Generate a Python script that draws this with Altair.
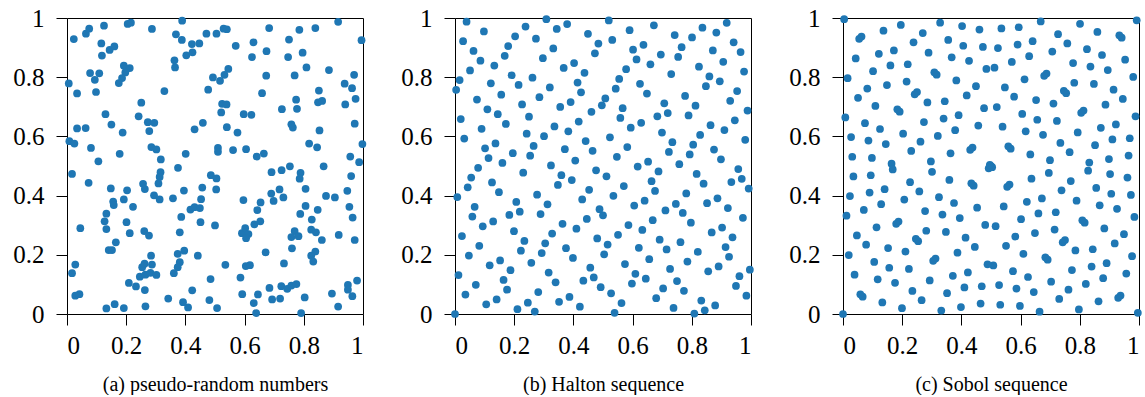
import altair as alt
import pandas as pd

# ---------------- data ----------------
tick_values = [0, 0.2, 0.4, 0.6, 0.8, 1]
captions = ["(a) pseudo-random numbers", "(b) Halton sequence", "(c) Sobol sequence"]

# (a) pseudo-random points
rand_x = [0.023,0.064,0.075,0.125,0.205,0.216,0.287,0.389,0.368,0.388,0.471,0.505,0.422,0.447,0.403,0.424,0.116,0.118,0.144,0.160,0.363,0.365,0.078,0.109,0.094,0.192,0.212,0.197,0.186,0.175,0.006,0.034,0.098,0.329,0.477,0.493,0.251,0.130,0.242,
          0.529,0.540,0.683,0.785,0.839,0.916,0.995,0.570,0.630,0.625,0.674,0.750,0.747,0.796,0.809,0.885,0.970,0.938,0.963,0.975,0.940,0.673,0.769,0.851,0.848,0.862,0.774,0.777,0.726,0.659,0.545,0.532,0.517,0.524,0.539,0.521,0.597,0.623,
          0.034,0.063,0.150,0.188,0.273,0.295,0.278,0.431,0.459,0.008,0.025,0.081,0.106,0.178,0.285,0.302,0.317,0.401,0.510,0.510,0.017,0.073,0.316,0.313,0.309,0.375,0.486,0.505,0.457,0.504,0.148,0.203,0.257,0.263,0.294,0.313,0.395,0.358,0.156,0.158,0.192,0.223,0.133,0.453,0.417,0.431,0.449,0.386,
          0.540,0.576,0.758,0.763,0.853,0.972,0.561,0.605,0.641,0.665,0.818,0.845,0.998,0.957,0.987,0.867,0.691,0.725,0.753,0.789,0.786,0.806,0.690,0.718,0.698,0.731,0.596,0.654,0.643,0.875,0.905,0.947,0.960,0.954,0.965,0.806,0.847,0.788,
          0.127,0.133,0.201,0.212,0.045,0.261,0.277,0.451,0.500,0.381,0.165,0.141,0.152,0.284,0.254,0.262,0.287,0.246,0.265,0.282,0.302,0.209,0.233,0.263,0.028,0.017,0.028,0.042,0.133,0.161,0.192,0.265,0.342,0.392,0.409,0.423,0.374,0.396,0.442,0.381,0.374,0.361,0.485,0.481,0.507,
          0.827,0.633,0.653,0.591,0.602,0.613,0.605,0.769,0.758,0.782,0.825,0.841,0.861,0.918,0.972,0.760,0.671,0.839,0.825,0.832,0.733,0.535,0.604,0.618,0.586,0.684,0.724,0.744,0.758,0.775,0.592,0.645,0.631,0.639,0.693,0.720,0.803,0.791,0.895,0.916,0.949,0.949,0.964,0.980]
rand_y = [0.929,0.947,0.964,0.974,0.980,0.984,0.963,0.991,0.945,0.926,0.947,0.947,0.912,0.914,0.874,0.884,0.914,0.873,0.892,0.904,0.857,0.833,0.814,0.813,0.791,0.839,0.831,0.816,0.797,0.780,0.779,0.745,0.750,0.753,0.758,0.799,0.714,0.675,0.668,
          0.964,0.962,0.966,0.960,0.966,0.987,0.925,0.906,0.918,0.868,0.888,0.927,0.868,0.883,0.833,0.824,0.808,0.778,0.763,0.727,0.708,0.805,0.806,0.755,0.715,0.720,0.724,0.693,0.692,0.746,0.828,0.808,0.788,0.710,0.708,0.681,0.675,0.673,
          0.627,0.628,0.640,0.613,0.648,0.646,0.618,0.624,0.646,0.584,0.576,0.561,0.516,0.541,0.564,0.556,0.522,0.541,0.561,0.548,0.473,0.443,0.479,0.463,0.441,0.494,0.469,0.458,0.427,0.421,0.424,0.418,0.440,0.422,0.401,0.387,0.417,0.391,0.380,0.368,0.387,0.362,0.339,0.388,0.353,0.361,0.358,0.328,
          0.631,0.613,0.641,0.630,0.620,0.643,0.554,0.557,0.532,0.542,0.576,0.563,0.574,0.532,0.513,0.499,0.479,0.486,0.499,0.477,0.457,0.423,0.407,0.421,0.382,0.394,0.385,0.377,0.351,0.399,0.394,0.416,0.466,0.362,0.326,0.365,0.352,0.338,
          0.313,0.287,0.310,0.273,0.290,0.280,0.265,0.310,0.299,0.276,0.242,0.216,0.216,0.197,0.158,0.170,0.167,0.126,0.133,0.139,0.132,0.105,0.093,0.081,0.167,0.138,0.062,0.067,0.019,0.033,0.020,0.026,0.052,0.040,0.022,0.080,0.203,0.214,0.197,0.175,0.158,0.138,0.118,0.047,0.020,
          0.319,0.303,0.313,0.273,0.290,0.270,0.256,0.280,0.260,0.263,0.285,0.276,0.250,0.267,0.250,0.222,0.208,0.211,0.197,0.177,0.171,0.166,0.162,0.165,0.123,0.088,0.094,0.085,0.096,0.101,0.067,0.066,0.037,0.003,0.049,0.052,0.056,0.003,0.069,0.025,0.098,0.082,0.060,0.113]

# (b) Halton points 0..255 (bases 2 and 3); x in 1/256 units, y in 1/729 units
halton_x_256 = [0,128,64,192,32,160,96,224,16,144,80,208,48,176,112,240,
                8,136,72,200,40,168,104,232,24,152,88,216,56,184,120,248,
                4,132,68,196,36,164,100,228,20,148,84,212,52,180,116,244,
                12,140,76,204,44,172,108,236,28,156,92,220,60,188,124,252,
                2,130,66,194,34,162,98,226,18,146,82,210,50,178,114,242,
                10,138,74,202,42,170,106,234,26,154,90,218,58,186,122,250,
                6,134,70,198,38,166,102,230,22,150,86,214,54,182,118,246,
                14,142,78,206,46,174,110,238,30,158,94,222,62,190,126,254,
                1,129,65,193,33,161,97,225,17,145,81,209,49,177,113,241,
                9,137,73,201,41,169,105,233,25,153,89,217,57,185,121,249,
                5,133,69,197,37,165,101,229,21,149,85,213,53,181,117,245,
                13,141,77,205,45,173,109,237,29,157,93,221,61,189,125,253,
                3,131,67,195,35,163,99,227,19,147,83,211,51,179,115,243,
                11,139,75,203,43,171,107,235,27,155,91,219,59,187,123,251,
                7,135,71,199,39,167,103,231,23,151,87,215,55,183,119,247,
                15,143,79,207,47,175,111,239,31,159,95,223,63,191,127,255]
halton_y_729 = [0,243,486,81,324,567,162,405,648,
                27,270,513,108,351,594,189,432,675,
                54,297,540,135,378,621,216,459,702,
                9,252,495,90,333,576,171,414,657,
                36,279,522,117,360,603,198,441,684,
                63,306,549,144,387,630,225,468,711,
                18,261,504,99,342,585,180,423,666,
                45,288,531,126,369,612,207,450,693,
                72,315,558,153,396,639,234,477,720,
                3,246,489,84,327,570,165,408,651,
                30,273,516,111,354,597,192,435,678,
                57,300,543,138,381,624,219,462,705,
                12,255,498,93,336,579,174,417,660,
                39,282,525,120,363,606,201,444,687,
                66,309,552,147,390,633,228,471,714,
                21,264,507,102,345,588,183,426,669,
                48,291,534,129,372,615,210,453,696,
                75,318,561,156,399,642,237,480,723,
                6,249,492,87,330,573,168,411,654,
                33,276,519,114,357,600,195,438,681,
                60,303,546,141,384,627,222,465,708,
                15,258,501,96,339,582,177,420,663,
                42,285,528,123,366,609,204,447,690,
                69,312,555,150,393,636,231,474,717,
                24,267,510,105,348,591,186,429,672,
                51,294,537,132,375,618,213,456,699,
                78,321,564,159,402,645,240,483,726,
                1,244,487,82,325,568,163,406,649,28,271,514,109]

# (c) Sobol points 0..255 (first two dimensions), both in 1/256 units
sobol_x_256 = list(halton_x_256)
sobol_y_256 = [0,128,192,64,160,32,96,224,240,112,48,176,80,208,144,16,
               136,8,72,200,40,168,232,104,120,248,184,56,216,88,24,152,
               204,76,12,140,108,236,172,44,60,188,252,124,156,28,92,220,
               68,196,132,4,228,100,36,164,180,52,116,244,20,148,212,84,
               170,42,106,234,10,138,202,74,90,218,154,26,250,122,58,186,
               34,162,226,98,130,2,66,194,210,82,18,146,114,242,178,50,
               102,230,166,38,198,70,6,134,150,22,86,214,54,182,246,118,
               238,110,46,174,78,206,142,14,30,158,222,94,190,62,126,254,
               255,127,63,191,95,223,159,31,15,143,207,79,175,47,111,239,
               119,247,183,55,215,87,23,151,135,7,71,199,39,167,231,103,
               51,179,243,115,147,19,83,211,195,67,3,131,99,227,163,35,
               187,59,123,251,27,155,219,91,75,203,139,11,235,107,43,171,
               85,213,149,21,245,117,53,181,165,37,101,229,5,133,197,69,
               221,93,29,157,125,253,189,61,45,173,237,109,141,13,77,205,
               153,25,89,217,57,185,249,121,105,233,169,41,201,73,9,137,
               17,145,209,81,177,49,113,241,225,97,33,161,65,193,129,1]

df_rand = pd.DataFrame({"x": rand_x, "y": rand_y})
df_halton = pd.DataFrame({"x": [v / 256 for v in halton_x_256], "y": [v / 729 for v in halton_y_729]})
df_sobol = pd.DataFrame({"x": [v / 256 for v in sobol_x_256], "y": [v / 256 for v in sobol_y_256]})

SERIF = "Liberation Serif, DejaVu Serif, serif"
DOT = "#1f77b4"
SIDE = 296


def panel(df, caption):
    sc = alt.Scale(domain=[0, 1], nice=False, zero=False)
    return (
        alt.Chart(df)
        .mark_circle(size=60, color=DOT, opacity=1, strokeWidth=0)
        .encode(
            x=alt.X("x:Q", scale=sc,
                    axis=alt.Axis(values=tick_values, format="~g", title=caption,
                                  labelPadding=8, titlePadding=16)),
            y=alt.Y("y:Q", scale=sc,
                    axis=alt.Axis(values=tick_values, format="~g", title=None,
                                  labelPadding=12)),
        )
        .properties(width=SIDE, height=SIDE)
    )


chart = (
    alt.hconcat(
        panel(df_rand, captions[0]),
        panel(df_halton, captions[1]),
        panel(df_sobol, captions[2]),
        spacing=92,
        bounds="flush",
    )
    .properties(
        padding={"left": 12, "top": 5, "right": 0, "bottom": 0},
        background="white",
    )
    .configure_view(stroke="black", strokeWidth=1)
    .configure_axis(
        domain=False,
        grid=False,
        ticks=True,
        tickColor="black",
        tickSize=11,
        tickWidth=1,
        labelFont=SERIF,
        labelFontSize=25,
        labelColor="black",
        titleFont=SERIF,
        titleFontSize=20,
        titleFontWeight="normal",
        titleColor="black",
    )
)

chart.save("out.html", embed_options={"renderer": "svg", "actions": False})
